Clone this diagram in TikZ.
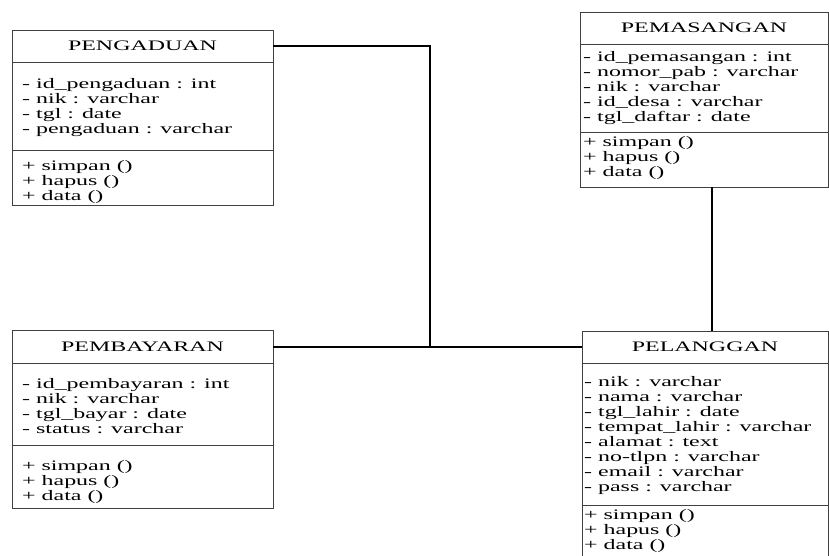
\documentclass[tikz,border=0pt]{standalone}
\usepackage{graphicx}
\usepackage{fontspec}
\setmainfont{Liberation Serif}
\usetikzlibrary{positioning}
\newcommand{\umlfont}{\fontsize{14.5}{15}\selectfont}
\newcommand{\stretchx}[1]{\scalebox{1.65}[1]{#1}}
\newcommand{\memberlist}[1]{\stretchx{\begin{tabular}[t]{@{}l@{}}#1\end{tabular}}}
\tikzset{
  classbox/.style={draw=black!75, line width=0.9pt, rectangle, outer sep=0pt, inner sep=0pt, anchor=north west},
  sepline/.style={draw=black!75, line width=0.9pt},
  classname/.style={font=\umlfont, inner sep=0pt},
  members/.style={font=\umlfont, inner sep=0pt, anchor=base west},
  assoc/.style={draw=black, line width=1.3pt}
}

\begin{document}
\begin{tikzpicture}[x=1pt, y=1pt]
  \clip (0,0) rectangle (829,-556);
  % class boxes
  \node[classbox, minimum width=261pt, minimum height=175pt] (pengaduan)  at (12,-30)  {};
  \node[classbox, minimum width=248pt, minimum height=175pt] (pemasangan) at (580,-12) {};
  \node[classbox, minimum width=261pt, minimum height=178pt] (pembayaran) at (12,-330) {};
  \node[classbox, minimum width=246pt, minimum height=232pt] (pelanggan)  at (582,-331) {};
  % compartments
  \draw[sepline] (pengaduan.west |- 0,-62.5) -- (pengaduan.east |- 0,-62.5);
  \draw[sepline] (pengaduan.west |- 0,-150) -- (pengaduan.east |- 0,-150);
  \draw[sepline] (pemasangan.west |- 0,-44) -- (pemasangan.east |- 0,-44);
  \draw[sepline] (pemasangan.west |- 0,-132) -- (pemasangan.east |- 0,-132);
  \draw[sepline] (pembayaran.west |- 0,-363) -- (pembayaran.east |- 0,-363);
  \draw[sepline] (pembayaran.west |- 0,-445) -- (pembayaran.east |- 0,-445);
  \draw[sepline] (pelanggan.west |- 0,-363) -- (pelanggan.east |- 0,-363);
  \draw[sepline] (pelanggan.west |- 0,-505) -- (pelanggan.east |- 0,-505);
  % class names
  \node[classname] (pengaduanT)  at (pengaduan.north |- 0,-46)  {\stretchx{PENGADUAN}};
  \node[classname] (pemasanganT) at (pemasangan.north |- 0,-28) {\stretchx{PEMASANGAN}};
  \node[classname] (pembayaranT) at (pembayaran.north |- 0,-347) {\stretchx{PEMBAYARAN}};
  \node[classname] (pelangganT)  at (pelanggan.north |- 0,-347)  {\stretchx{PELANGGAN}};
  % attributes
  \node[members] (pengaduanA) at (22,-89) {\memberlist{- id\_pengaduan : int\\- nik : varchar\\- tgl : date\\- pengaduan : varchar}};
  \node[members] (pemasanganA) at (583,-62) {\memberlist{- id\_pemasangan : int\\- nomor\_pab : varchar\\- nik : varchar\\- id\_desa : varchar\\- tgl\_daftar : date}};
  \node[members] (pembayaranA) at (22,-388) {\memberlist{- id\_pembayaran : int\\- nik : varchar\\- tgl\_bayar : date\\- status : varchar}};
  \node[members] (pelangganA) at (584,-386) {\memberlist{- nik : varchar\\- nama : varchar\\- tgl\_lahir : date\\- tempat\_lahir : varchar\\- alamat : text\\- no-tlpn : varchar\\- email : varchar\\- pass : varchar}};
  % operations
  \node[members] (pengaduanO)  at (22,-171)  {\memberlist{+ simpan ()\\+ hapus ()\\+ data ()}};
  \node[members] (pemasanganO) at (583,-147) {\memberlist{+ simpan ()\\+ hapus ()\\+ data ()}};
  \node[members] (pembayaranO) at (22,-470)  {\memberlist{+ simpan ()\\+ hapus ()\\+ data ()}};
  \node[members] (pelangganO)  at (584,-519) {\memberlist{+ simpan ()\\+ hapus ()\\+ data ()}};
  % associations
  \coordinate (junction) at (430,-347);
  \draw[assoc] (pengaduanT -| pengaduan.east) -| (junction);
  \draw[assoc] (pembayaranT -| pembayaran.east) -- (pelangganT -| pelanggan.west);
  \draw[assoc] ([xshift=8pt]pemasangan.south) -- ([xshift=8pt]pemasangan.south |- pelanggan.north);
\end{tikzpicture}
\end{document}
